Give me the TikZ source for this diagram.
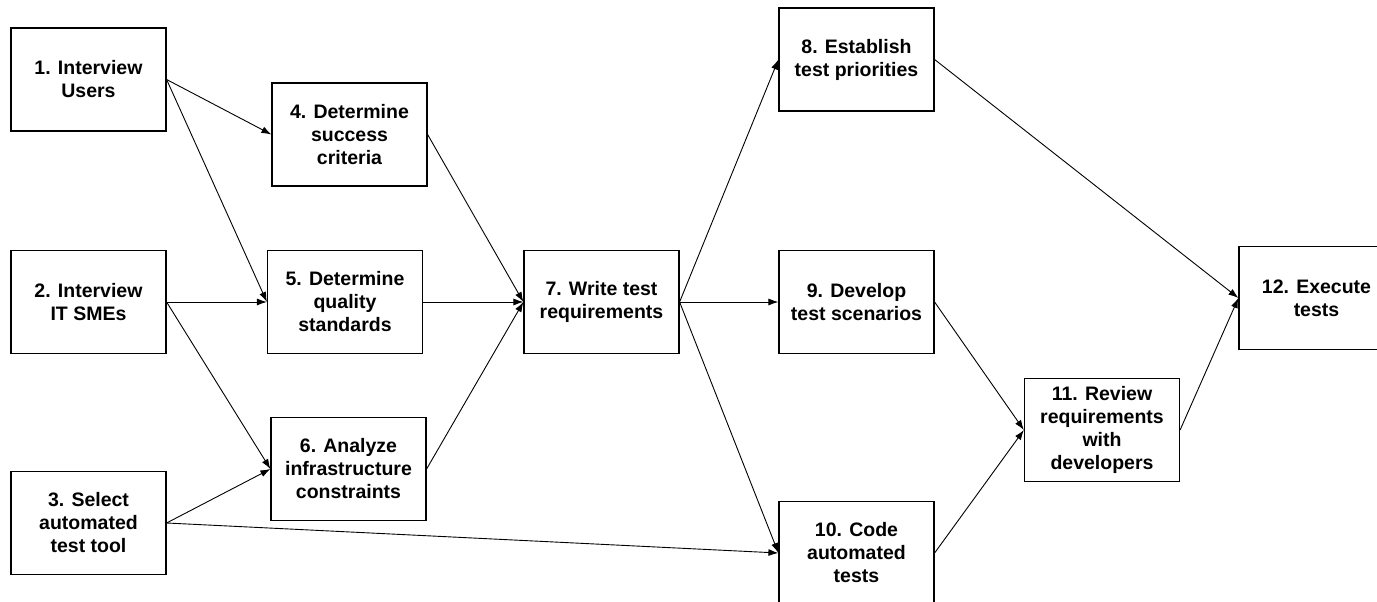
\documentclass[tikz,border=0pt]{standalone}
\usepackage{fontspec}
\setmainfont{Liberation Sans}
\usetikzlibrary{arrows.meta}
\begin{document}
\begin{tikzpicture}[x=1pt,y=1pt,
  box/.style={draw=black, line width=1.2pt, rectangle, minimum width=155pt, minimum height=103pt, inner sep=0pt, align=center, font=\fontsize{19.5}{23}\selectfont\bfseries},
  conn/.style={line width=0.9pt, -{Latex[length=10pt,width=7pt]}}]
\useasboundingbox (0,0) rectangle (1377,602);
\clip (0,0) rectangle (1377,602);
\fill[white] (0,0) rectangle (1377,602);
\node[box] (b1) at (88.5,522.5) {1. Interview\\Users};
\node[box] (b2) at (88.5,300) {2. Interview\\IT SMEs};
\node[box] (b3) at (88.5,79) {3. Select\\automated\\test tool};
\node[box] (b4) at (349.5,467.5) {4. Determine\\success\\criteria};
\node[box] (b5) at (345,300) {5. Determine\\quality\\standards};
\node[box] (b6) at (348.5,133) {6. Analyze\\infrastructure\\constraints};
\node[box] (b7) at (601.5,300) {7. Write test\\requirements};
\node[box] (b8) at (856.5,542.5) {8. Establish\\test priorities};
\node[box] (b9) at (856.5,300) {9. Develop\\test scenarios};
\node[box] (b10) at (856.5,49) {10. Code\\automated\\tests};
\node[box] (b11) at (1102,172) {11. Review\\requirements\\with\\developers};
\node[box] (b12) at (1316.5,304) {12. Execute\\tests};
\draw[conn] (b1.east) -- (b4.west);
\draw[conn] (b1.east) -- (b5.west);
\draw[conn] (b2.east) -- (b5.west);
\draw[conn] (b2.east) -- (b6.west);
\draw[conn] (b3.east) -- (b6.west);
\draw[conn] (b3.east) -- (b10.west);
\draw[conn] (b4.east) -- (b7.west);
\draw[conn] (b5.east) -- (b7.west);
\draw[conn] (b6.east) -- (b7.west);
\draw[conn] (b7.east) -- (b8.west);
\draw[conn] (b7.east) -- (b9.west);
\draw[conn] (b7.east) -- (b10.west);
\draw[conn] (b8.east) -- (b12.west);
\draw[conn] (b9.east) -- (b11.west);
\draw[conn] (b10.east) -- (b11.west);
\draw[conn] (b11.east) -- (b12.west);
\end{tikzpicture}
\end{document}
